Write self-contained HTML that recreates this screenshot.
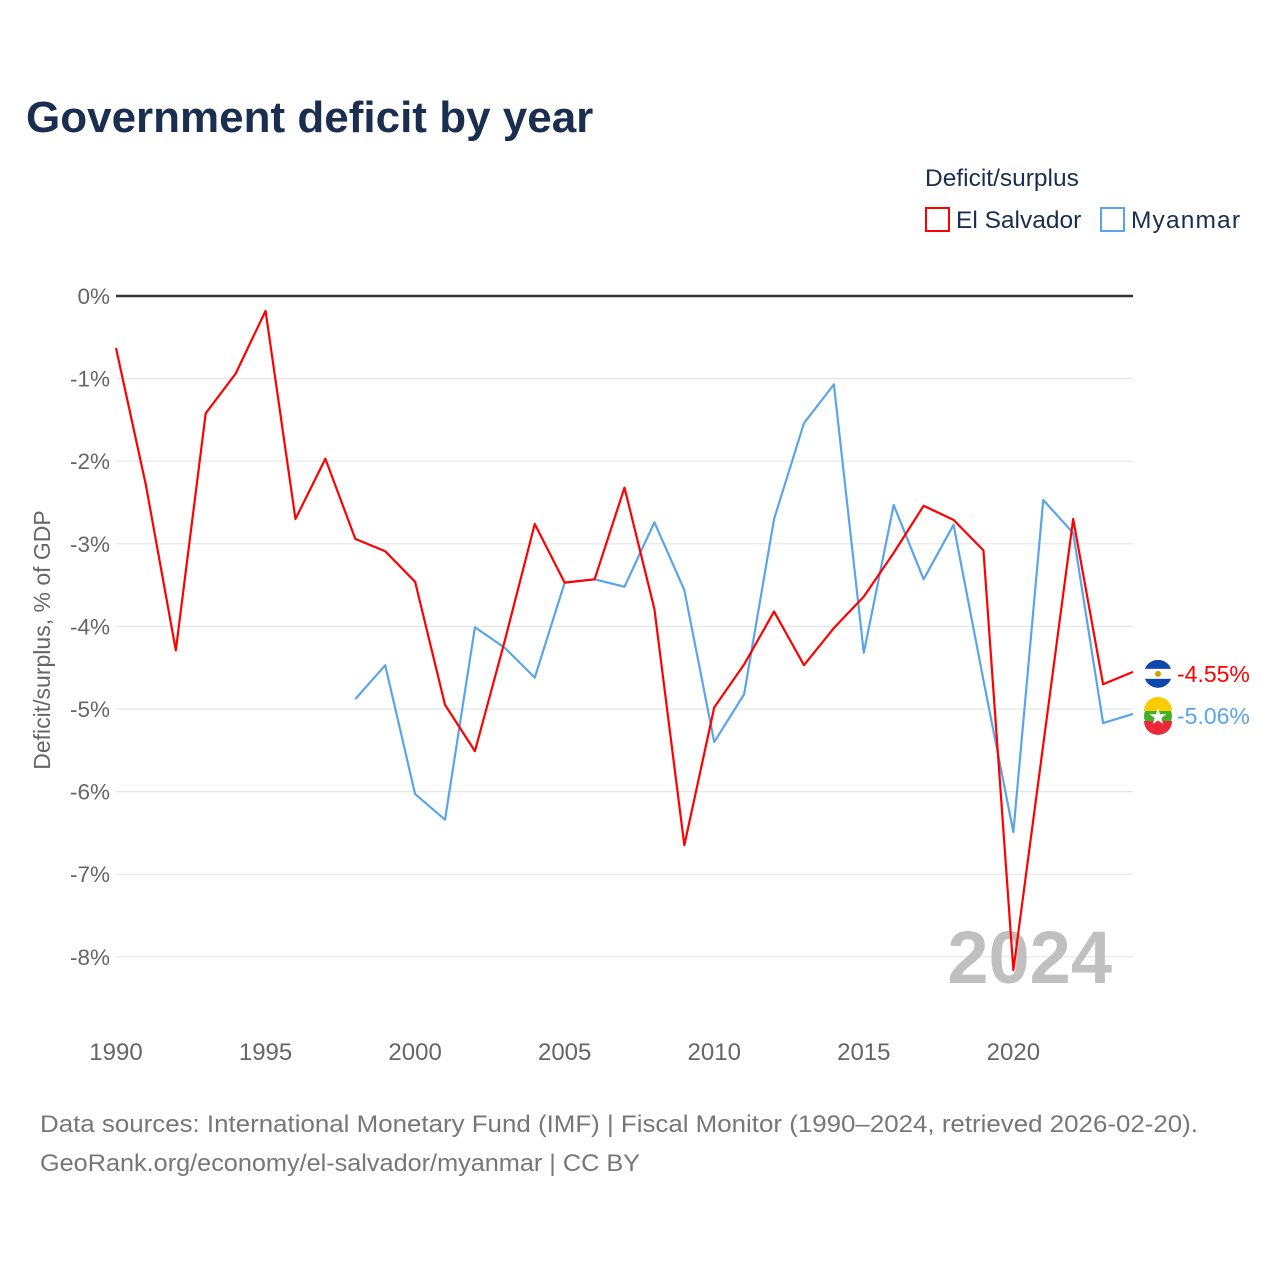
<!DOCTYPE html>
<html><head><meta charset="utf-8"><style>
body{margin:0;background:#fff;font-family:"Liberation Sans",sans-serif;}
svg text{font-family:"Liberation Sans",sans-serif;}
</style></head><body>
<svg id="chart" width="1280" height="1280" xmlns="http://www.w3.org/2000/svg">
<text x="26" y="132" font-size="44" font-weight="bold" fill="#1a2e4f">Government deficit by year</text>
<text x="925" y="186" font-size="24.5" fill="#1a2e4f">Deficit/surplus</text>
<g><rect x="926" y="208" width="23" height="23" fill="none" stroke="#ff0000" stroke-width="2"/><text x="956" y="228" font-size="24.5" fill="#1a2e4f">El Salvador</text></g>
<g><rect x="1101" y="208" width="23" height="23" fill="none" stroke="#5aa5ea" stroke-width="2"/><text x="1131" y="228" font-size="24.5" fill="#1a2e4f" textLength="109">Myanmar</text></g>
<g id="grid"></g>
<text x="50" y="640" font-size="23" fill="#666" transform="rotate(-90 50 640)" text-anchor="middle">Deficit/surplus, % of GDP</text>
<text x="1112" y="983" font-size="74" font-weight="bold" fill="#c0c0c0" text-anchor="end">2024</text>
<g id="series"></g>
<text x="40" y="1132" font-size="24.5" fill="#777" textLength="1158" lengthAdjust="spacingAndGlyphs">Data sources: International Monetary Fund (IMF) | Fiscal Monitor (1990–2024, retrieved 2026-02-20).</text>
<text x="40" y="1171" font-size="24.5" fill="#777" textLength="600" lengthAdjust="spacingAndGlyphs">GeoRank.org/economy/el-salvador/myanmar | CC BY</text>
</svg>
<script>
const years=[];for(let y=1990;y<=2024;y++)years.push(y);
const elSalvador=[-0.63,-2.29,-4.29,-1.42,-0.94,-0.18,-2.70,-1.97,-2.94,-3.09,-3.46,-4.95,-5.51,-4.17,-2.76,-3.47,-3.43,-2.32,-3.79,-6.65,-4.98,-4.46,-3.82,-4.47,-4.02,-3.64,-3.11,-2.54,-2.71,-3.08,-8.16,-5.43,-2.70,-4.70,-4.55];
const myanmarYears=[1998,1999,2000,2001,2002,2003,2004,2005,2006,2007,2008,2009,2010,2011,2012,2013,2014,2015,2016,2017,2018,2019,2020,2021,2022,2023,2024];
const myanmar=[-4.88,-4.47,-6.03,-6.34,-4.01,-4.26,-4.62,-3.47,-3.43,-3.52,-2.74,-3.56,-5.40,-4.82,-2.70,-1.54,-1.07,-4.32,-2.53,-3.43,-2.77,-4.65,-6.49,-2.47,-2.87,-5.17,-5.06];
const yTicks=[0,-1,-2,-3,-4,-5,-6,-7,-8];
const xTicks=[1990,1995,2000,2005,2010,2015,2020];
const X=y=>116+(y-1990)*(1133-116)/34;
const Y=v=>296-v*82.6;
const NS='http://www.w3.org/2000/svg';
const grid=document.getElementById('grid'),series=document.getElementById('series');
function mk(p,t,a){const e=document.createElementNS(NS,t);for(const k in a)e.setAttribute(k,a[k]);p.appendChild(e);return e;}
yTicks.forEach(v=>{
 const l=mk(grid,'line',{x1:116,x2:1133,y1:Y(v),y2:Y(v),stroke:v===0?'#333':'#e6e6e6','stroke-width':v===0?2.5:1.2});
 
 
 const t=mk(grid,'text',{x:110,y:Y(v)+8,'font-size':22.5,fill:'#666','text-anchor':'end'});
 t.textContent=v+'%';
 
 
});
xTicks.forEach(y=>{
 const t=mk(grid,'text',{x:X(y),y:1060,'font-size':24,fill:'#666','text-anchor':'middle'});
 t.textContent=y;
 
 
});
function line(xs,vs,c,name){
 const p=mk(series,'polyline',{points:xs.map((y,i)=>X(y)+','+Y(vs[i])).join(' '),fill:'none',stroke:c,'stroke-width':2.2,'stroke-linejoin':'round'});
 
 
}
line(myanmarYears,myanmar,'#5aa5ea','myanmar-line');
line(years,elSalvador,'#ff0000','el-salvador-line');
function endLabel(v,c,name,flag){
 const cy=Y(v)+2, cx=1158;
 const g=mk(series,'g',{});
 
 
 if(flag==='sv'){
  mk(g,'circle',{cx,cy,r:14,fill:'#0f47af'});
  mk(g,'rect',{x:cx-14,y:cy-5,width:28,height:10,fill:'#fff'});
  mk(g,'circle',{cx,cy,r:3,fill:'#c9a400'});
 }else{
  mk(g,'circle',{cx,cy,r:14,fill:'#43b02a'});
  mk(g,'path',{d:`M${cx-14},${cy-5} A14,14 0 0 1 ${cx+14},${cy-5} Z`,fill:'#fecb00'});
  mk(g,'path',{d:`M${cx-14},${cy+5} A14,14 0 0 0 ${cx+14},${cy+5} Z`,fill:'#ea2839'});
  mk(g,'text',{x:cx,y:cy+8,'font-size':22,fill:'#fff','text-anchor':'middle'}).textContent='★';
 }
 const t=mk(g,'text',{x:1177,y:cy+8,'font-size':23,fill:c});
 t.textContent=v.toFixed(2)+'%';
}
endLabel(elSalvador[elSalvador.length-1],'#ff0000','el-salvador-end-label','sv');
endLabel(myanmar[myanmar.length-1],'#5aa5ea','myanmar-end-label','mm');
</script>
</body></html>
